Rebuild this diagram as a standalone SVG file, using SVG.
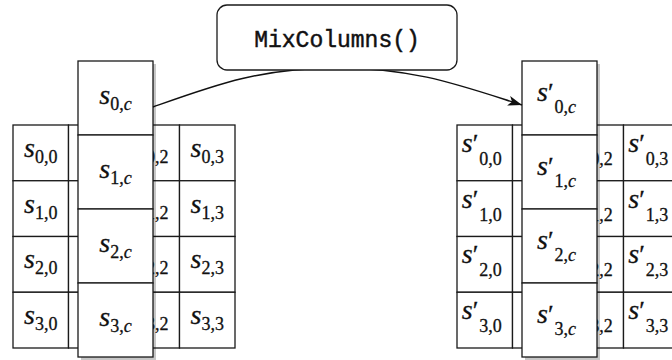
<svg xmlns="http://www.w3.org/2000/svg" width="672" height="360" viewBox="0 0 672 360">
<style>
.cell{fill:#fff;stroke:#1a1a1a;stroke-width:1.3}
.box{fill:#fff;stroke:#1a1a1a;stroke-width:1.3}
.shadow{fill:#000;opacity:.22}
.m{font-family:"Liberation Serif",serif;fill:#111;stroke:#111;stroke-width:0.3}
.v{font-style:italic;font-size:28px}
.sub{font-size:18px}
.ci{font-style:italic}
.pr{font-size:26px}
.mid{text-anchor:middle}
.code{font-family:"Liberation Mono",monospace;font-size:23px;fill:#111;stroke:#111;stroke-width:0.45;text-anchor:middle}
.edge{fill:none;stroke:#111;stroke-width:1.4}
</style>
<defs>
<marker id="arr" markerUnits="userSpaceOnUse" viewBox="0 0 14 10" refX="14" refY="5" markerWidth="14" markerHeight="10" orient="auto">
<path d="M0,0 L14,5 L0,10 L3.5,5 Z" fill="#111"/>
</marker>
</defs>

<!-- Left state grid -->
<g id="left-grid">
<rect class="cell" x="13" y="125" width="55.5" height="55.75"/>
<rect class="cell" x="68.5" y="125" width="55.5" height="55.75"/>
<rect class="cell" x="124" y="125" width="55.5" height="55.75"/>
<rect class="cell" x="179.5" y="125" width="55.5" height="55.75"/>
<rect class="cell" x="13" y="180.75" width="55.5" height="55.75"/>
<rect class="cell" x="68.5" y="180.75" width="55.5" height="55.75"/>
<rect class="cell" x="124" y="180.75" width="55.5" height="55.75"/>
<rect class="cell" x="179.5" y="180.75" width="55.5" height="55.75"/>
<rect class="cell" x="13" y="236.5" width="55.5" height="55.75"/>
<rect class="cell" x="68.5" y="236.5" width="55.5" height="55.75"/>
<rect class="cell" x="124" y="236.5" width="55.5" height="55.75"/>
<rect class="cell" x="179.5" y="236.5" width="55.5" height="55.75"/>
<rect class="cell" x="13" y="292.25" width="55.5" height="55.75"/>
<rect class="cell" x="68.5" y="292.25" width="55.5" height="55.75"/>
<rect class="cell" x="124" y="292.25" width="55.5" height="55.75"/>
<rect class="cell" x="179.5" y="292.25" width="55.5" height="55.75"/>
<text class="m mid" x="40.75" y="157"><tspan class="v">s</tspan><tspan class="sub" dy="6">0,0</tspan></text>
<text class="m mid" x="151.75" y="157"><tspan class="v">s</tspan><tspan class="sub" dy="6">0,2</tspan></text>
<text class="m mid" x="207.25" y="157"><tspan class="v">s</tspan><tspan class="sub" dy="6">0,3</tspan></text>
<text class="m mid" x="40.75" y="212.6"><tspan class="v">s</tspan><tspan class="sub" dy="6">1,0</tspan></text>
<text class="m mid" x="151.75" y="212.6"><tspan class="v">s</tspan><tspan class="sub" dy="6">1,2</tspan></text>
<text class="m mid" x="207.25" y="212.6"><tspan class="v">s</tspan><tspan class="sub" dy="6">1,3</tspan></text>
<text class="m mid" x="40.75" y="268.4"><tspan class="v">s</tspan><tspan class="sub" dy="6">2,0</tspan></text>
<text class="m mid" x="151.75" y="268.4"><tspan class="v">s</tspan><tspan class="sub" dy="6">2,2</tspan></text>
<text class="m mid" x="207.25" y="268.4"><tspan class="v">s</tspan><tspan class="sub" dy="6">2,3</tspan></text>
<text class="m mid" x="40.75" y="324.1"><tspan class="v">s</tspan><tspan class="sub" dy="6">3,0</tspan></text>
<text class="m mid" x="151.75" y="324.1"><tspan class="v">s</tspan><tspan class="sub" dy="6">3,2</tspan></text>
<text class="m mid" x="207.25" y="324.1"><tspan class="v">s</tspan><tspan class="sub" dy="6">3,3</tspan></text>
</g>

<!-- Left column overlay -->
<rect class="shadow" x="81" y="64" width="75" height="296"/>
<g id="left-s0c">
<rect class="box" x="78" y="61" width="75" height="74"/>
<text class="m mid" x="115.5" y="104"><tspan class="v">s</tspan><tspan class="sub" dy="6">0,<tspan class="ci">c</tspan></tspan></text>
</g>
<g id="left-s1c">
<rect class="box" x="78" y="135" width="75" height="74"/>
<text class="m mid" x="115.5" y="178"><tspan class="v">s</tspan><tspan class="sub" dy="6">1,<tspan class="ci">c</tspan></tspan></text>
</g>
<g id="left-s2c">
<rect class="box" x="78" y="209" width="75" height="74"/>
<text class="m mid" x="115.5" y="252"><tspan class="v">s</tspan><tspan class="sub" dy="6">2,<tspan class="ci">c</tspan></tspan></text>
</g>
<g id="left-s3c">
<rect class="box" x="78" y="283" width="75" height="74"/>
<text class="m mid" x="115.5" y="326"><tspan class="v">s</tspan><tspan class="sub" dy="6">3,<tspan class="ci">c</tspan></tspan></text>
</g>

<!-- Right state grid -->
<g id="right-grid">
<rect class="cell" x="457" y="125" width="55.5" height="55.75"/>
<rect class="cell" x="512.5" y="125" width="55.5" height="55.75"/>
<rect class="cell" x="568" y="125" width="55.5" height="55.75"/>
<rect class="cell" x="623.5" y="125" width="55.5" height="55.75"/>
<rect class="cell" x="457" y="180.75" width="55.5" height="55.75"/>
<rect class="cell" x="512.5" y="180.75" width="55.5" height="55.75"/>
<rect class="cell" x="568" y="180.75" width="55.5" height="55.75"/>
<rect class="cell" x="623.5" y="180.75" width="55.5" height="55.75"/>
<rect class="cell" x="457" y="236.5" width="55.5" height="55.75"/>
<rect class="cell" x="512.5" y="236.5" width="55.5" height="55.75"/>
<rect class="cell" x="568" y="236.5" width="55.5" height="55.75"/>
<rect class="cell" x="623.5" y="236.5" width="55.5" height="55.75"/>
<rect class="cell" x="457" y="292.25" width="55.5" height="55.75"/>
<rect class="cell" x="512.5" y="292.25" width="55.5" height="55.75"/>
<rect class="cell" x="568" y="292.25" width="55.5" height="55.75"/>
<rect class="cell" x="623.5" y="292.25" width="55.5" height="55.75"/>
<text class="m" x="461.75" y="152"><tspan class="v">s</tspan><tspan class="pr">′</tspan><tspan class="sub" dx="1" dy="13">0,0</tspan></text>
<text class="m" x="572.75" y="152"><tspan class="v">s</tspan><tspan class="pr">′</tspan><tspan class="sub" dx="1" dy="13">0,2</tspan></text>
<text class="m" x="628.25" y="152"><tspan class="v">s</tspan><tspan class="pr">′</tspan><tspan class="sub" dx="1" dy="13">0,3</tspan></text>
<text class="m" x="461.75" y="207.6"><tspan class="v">s</tspan><tspan class="pr">′</tspan><tspan class="sub" dx="1" dy="13">1,0</tspan></text>
<text class="m" x="572.75" y="207.6"><tspan class="v">s</tspan><tspan class="pr">′</tspan><tspan class="sub" dx="1" dy="13">1,2</tspan></text>
<text class="m" x="628.25" y="207.6"><tspan class="v">s</tspan><tspan class="pr">′</tspan><tspan class="sub" dx="1" dy="13">1,3</tspan></text>
<text class="m" x="461.75" y="263.4"><tspan class="v">s</tspan><tspan class="pr">′</tspan><tspan class="sub" dx="1" dy="13">2,0</tspan></text>
<text class="m" x="572.75" y="263.4"><tspan class="v">s</tspan><tspan class="pr">′</tspan><tspan class="sub" dx="1" dy="13">2,2</tspan></text>
<text class="m" x="628.25" y="263.4"><tspan class="v">s</tspan><tspan class="pr">′</tspan><tspan class="sub" dx="1" dy="13">2,3</tspan></text>
<text class="m" x="461.75" y="319.1"><tspan class="v">s</tspan><tspan class="pr">′</tspan><tspan class="sub" dx="1" dy="13">3,0</tspan></text>
<text class="m" x="572.75" y="319.1"><tspan class="v">s</tspan><tspan class="pr">′</tspan><tspan class="sub" dx="1" dy="13">3,2</tspan></text>
<text class="m" x="628.25" y="319.1"><tspan class="v">s</tspan><tspan class="pr">′</tspan><tspan class="sub" dx="1" dy="13">3,3</tspan></text>
</g>

<!-- Right column overlay -->
<rect class="shadow" x="525" y="64" width="75" height="296"/>
<g id="right-s0c">
<rect class="box" x="522" y="61" width="75" height="74"/>
<text class="m" x="537" y="101"><tspan class="v">s</tspan><tspan class="pr">′</tspan><tspan class="sub" dx="1" dy="12">0,<tspan class="ci">c</tspan></tspan></text>
</g>
<g id="right-s1c">
<rect class="box" x="522" y="135" width="75" height="74"/>
<text class="m" x="537" y="175"><tspan class="v">s</tspan><tspan class="pr">′</tspan><tspan class="sub" dx="1" dy="12">1,<tspan class="ci">c</tspan></tspan></text>
</g>
<g id="right-s2c">
<rect class="box" x="522" y="209" width="75" height="74"/>
<text class="m" x="537" y="249"><tspan class="v">s</tspan><tspan class="pr">′</tspan><tspan class="sub" dx="1" dy="12">2,<tspan class="ci">c</tspan></tspan></text>
</g>
<g id="right-s3c">
<rect class="box" x="522" y="283" width="75" height="74"/>
<text class="m" x="537" y="323"><tspan class="v">s</tspan><tspan class="pr">′</tspan><tspan class="sub" dx="1" dy="12">3,<tspan class="ci">c</tspan></tspan></text>
</g>

<!-- Connectors -->
<g id="connectors">
<path class="edge" d="M153,107 C215,85 260,68 337,68 C414,68 459,85 522,105" marker-end="url(#arr)"/>
</g>

<!-- Operation node -->
<g id="mixcolumns">
<rect class="box" x="217" y="5" width="240" height="65" rx="10" ry="10"/>
<text class="code" x="337" y="47">MixColumns()</text>
</g>
</svg>
